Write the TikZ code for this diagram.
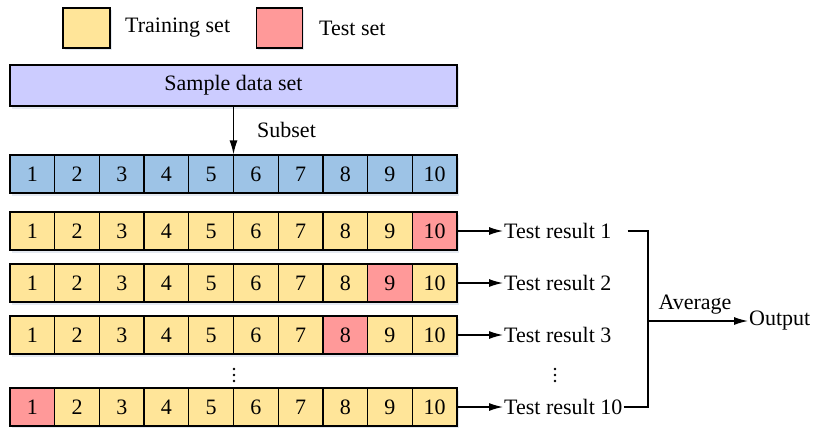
\documentclass[tikz,border=0pt]{standalone}
\usepackage{fontspec}
\setmainfont{Liberation Serif}
\usetikzlibrary{arrows.meta,shadows}

\definecolor{trainc}{HTML}{FFE599}
\definecolor{testc}{HTML}{FF9999}
\definecolor{subc}{HTML}{9DC3E6}
\definecolor{datac}{HTML}{CCCCFF}
\definecolor{shadowc}{HTML}{C9D3E3}

\tikzset{
  txt/.style={font=\fontsize{22pt}{26pt}\selectfont, inner sep=1pt},
  boxed/.style={draw=black, line width=1.3pt,
    drop shadow={shadow xshift=1.5pt, shadow yshift=-2.5pt, fill=shadowc, opacity=.5}},
  cell/.style={boxed, txt, minimum width=44.7pt, minimum height=38pt, inner sep=0pt},
  arr/.style={line width=1.3pt, -{Latex[length=14pt,width=8pt]}},
  link/.style={line width=1.3pt},
  dot/.style={circle, fill=black, inner sep=0pt, minimum size=2.6pt},
}

\begin{document}
\begin{tikzpicture}[x=1pt, y=-1pt]
\useasboundingbox (0,0) rectangle (814,428);

% legend
\node[boxed, fill=trainc, minimum width=47pt, minimum height=40pt] (legtrain) at (86.5,28) {};
\node[txt, anchor=west] (legtraintxt) at (124,28) {Training set};
\node[boxed, fill=testc, minimum width=46pt, minimum height=40pt] (legtest) at (279.5,28) {};
\node[txt, anchor=west] (legtesttxt) at (318,28) {Test set};

% whole data set
\node[boxed, txt, fill=datac, minimum width=447pt, minimum height=41pt] (sample) at (233.5,85.5) {Sample data set};

% the ten subsets
\foreach \i in {1,...,10} {
  \node[cell, fill=subc] (b\i) at ({10+44.7*(\i-0.5)},174) {\i};
}
\draw[arr] (sample.south) -- (sample.south |- b6.north);
\node[txt, anchor=west] (subset) at (256,130) {Subset};

% the ten folds, one test subset each
\foreach \r/\yy/\t in {1/231/10, 2/283/9, 3/335/8, 10/407/1} {
  \foreach \i in {1,...,10} {
    \ifnum\i=\t \def\cc{testc}\else\def\cc{trainc}\fi
    \node[cell, fill=\cc] (r\r-\i) at ({10+44.7*(\i-0.5)},\yy) {\i};
  }
  \node[txt, anchor=west] (tr\r) at (503,\yy) {Test result \r};
  \draw[arr] (r\r-10.east) -- (tr\r.west);
}

% vertical ellipses between fold 3 and fold 10
\foreach \xx/\nm in {234/l, 555/r} {
  \foreach \k/\yy in {1/369, 2/375, 3/381} {
    \node[dot] (dot\nm\k) at (\xx,\yy) {};
  }
}

% averaging
\coordinate (join) at (648,321);
\node[txt, anchor=west] (out) at (748,321) {Output};
\draw[link] ([xshift=15pt]tr1.east) -| (join);
\draw[link] (tr10.east) -| (join);
\draw[arr] (join) -- (out.west);
\node[txt] (avg) at (695,305) {Average};
\end{tikzpicture}
\end{document}
